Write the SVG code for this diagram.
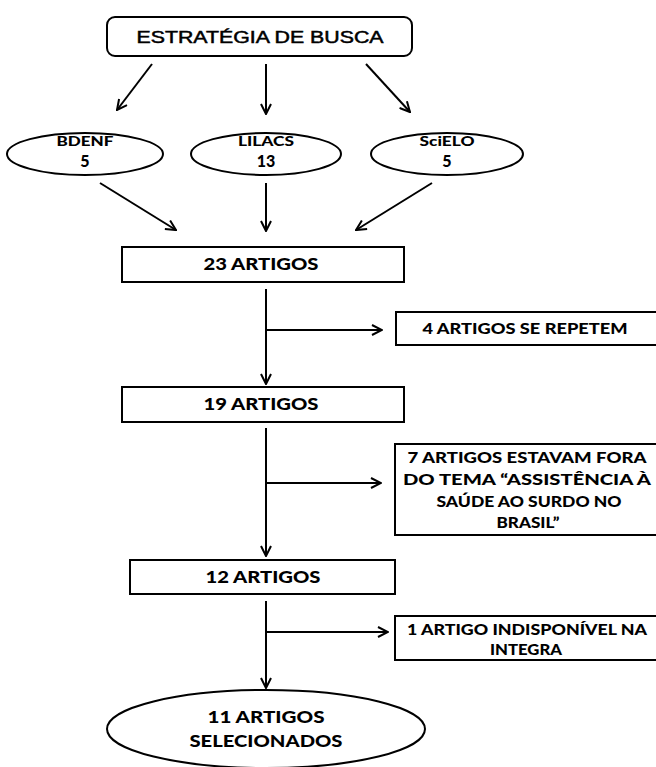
<svg xmlns="http://www.w3.org/2000/svg" width="656" height="767" viewBox="0 0 656 767">
<defs>
<marker id="ah" viewBox="0 0 12 12" refX="11" refY="6" markerWidth="12" markerHeight="12" markerUnits="userSpaceOnUse" orient="auto">
<path d="M1,1 L11,6 L1,11" fill="none" stroke="#000" stroke-width="2"/>
</marker>
<style>
.box{fill:#fff;stroke:#000;stroke-width:2}
.c{fill:none;stroke:#000;stroke-width:2}
.a{marker-end:url(#ah)}
.t{font-family:Lato,"Open Sans","Liberation Sans",sans-serif;font-weight:900;fill:#000;text-anchor:middle}
.s{font-size:14px}
.n{font-size:16px}
.m{font-size:15px}
.l{font-size:17px}
.top{font-family:"Liberation Sans",Arial,sans-serif;font-size:17px;fill:#000;text-anchor:middle;stroke:#000;stroke-width:0.5}
</style>
</defs>
<rect width="656" height="767" fill="#fff"/>
<g id="connectors">
<line class="c a" x1="152" y1="64" x2="117" y2="110"/>
<line class="c a" x1="266" y1="64" x2="266" y2="114"/>
<line class="c a" x1="366" y1="64" x2="410" y2="112"/>
<line class="c a" x1="100" y1="183" x2="176" y2="230"/>
<line class="c a" x1="266" y1="183" x2="266" y2="231"/>
<line class="c a" x1="432" y1="183" x2="356" y2="230"/>
<line class="c a" x1="266" y1="289" x2="266" y2="384"/>
<line class="c a" x1="266" y1="330" x2="382" y2="330"/>
<line class="c a" x1="266" y1="428" x2="266" y2="556"/>
<line class="c a" x1="266" y1="483" x2="381" y2="483"/>
<line class="c a" x1="266" y1="601" x2="266" y2="688"/>
<line class="c a" x1="266" y1="632" x2="388" y2="632"/>
</g>
<g id="n-estrategia">
<rect class="box" x="107" y="17" width="305" height="39" rx="8"/>
<text class="top" x="260" y="43" textLength="247" lengthAdjust="spacingAndGlyphs">ESTRATÉGIA DE BUSCA</text>
</g>
<g id="n-bdenf">
<ellipse class="box" cx="85" cy="154" rx="78" ry="21"/>
<text class="t s" x="85" y="146" textLength="57" lengthAdjust="spacingAndGlyphs">BDENF</text>
<text class="t n" x="85" y="167">5</text>
</g>
<g id="n-lilacs">
<ellipse class="box" cx="266" cy="154" rx="75" ry="21"/>
<text class="t s" x="266" y="146" textLength="56" lengthAdjust="spacingAndGlyphs">LILACS</text>
<text class="t n" x="266" y="167">13</text>
</g>
<g id="n-scielo">
<ellipse class="box" cx="447" cy="154" rx="76" ry="21"/>
<text class="t s" x="447" y="146" textLength="55" lengthAdjust="spacingAndGlyphs">SciELO</text>
<text class="t n" x="447" y="167">5</text>
</g>
<g id="n-23">
<rect class="box" x="122" y="247" width="282" height="35"/>
<text class="t l" x="261" y="270" textLength="115" lengthAdjust="spacingAndGlyphs">23 ARTIGOS</text>
</g>
<g id="n-4">
<rect class="box" x="396" y="312" width="262" height="33"/>
<text class="t m" x="525" y="334" textLength="205" lengthAdjust="spacingAndGlyphs">4 ARTIGOS SE REPETEM</text>
</g>
<g id="n-19">
<rect class="box" x="122" y="387" width="282" height="35"/>
<text class="t l" x="261" y="410" textLength="115" lengthAdjust="spacingAndGlyphs">19 ARTIGOS</text>
</g>
<g id="n-7">
<rect class="box" x="395" y="444" width="263" height="91"/>
<text class="t m" x="527" y="463" textLength="239" lengthAdjust="spacingAndGlyphs">7 ARTIGOS ESTAVAM FORA</text>
<text class="t m" x="527" y="485" textLength="248" lengthAdjust="spacingAndGlyphs">DO TEMA “ASSISTÊNCIA  À</text>
<text class="t m" x="529" y="507" textLength="185" lengthAdjust="spacingAndGlyphs">SAÚDE AO SURDO NO</text>
<text class="t m" x="528" y="528" textLength="63" lengthAdjust="spacingAndGlyphs">BRASIL”</text>
</g>
<g id="n-12">
<rect class="box" x="130" y="560" width="265" height="34"/>
<text class="t l" x="263" y="583" textLength="115" lengthAdjust="spacingAndGlyphs">12 ARTIGOS</text>
</g>
<g id="n-1">
<rect class="box" x="395" y="616" width="263" height="44"/>
<text class="t m" x="527" y="635" textLength="240" lengthAdjust="spacingAndGlyphs">1 ARTIGO INDISPONÍVEL NA</text>
<text class="t m" x="526" y="655" textLength="72" lengthAdjust="spacingAndGlyphs">INTEGRA</text>
</g>
<g id="n-11">
<ellipse class="box" cx="266" cy="729" rx="159" ry="39"/>
<text class="t l" x="266" y="723" textLength="117" lengthAdjust="spacingAndGlyphs">11 ARTIGOS</text>
<text class="t l" x="266" y="747" textLength="153" lengthAdjust="spacingAndGlyphs">SELECIONADOS</text>
</g>
</svg>
